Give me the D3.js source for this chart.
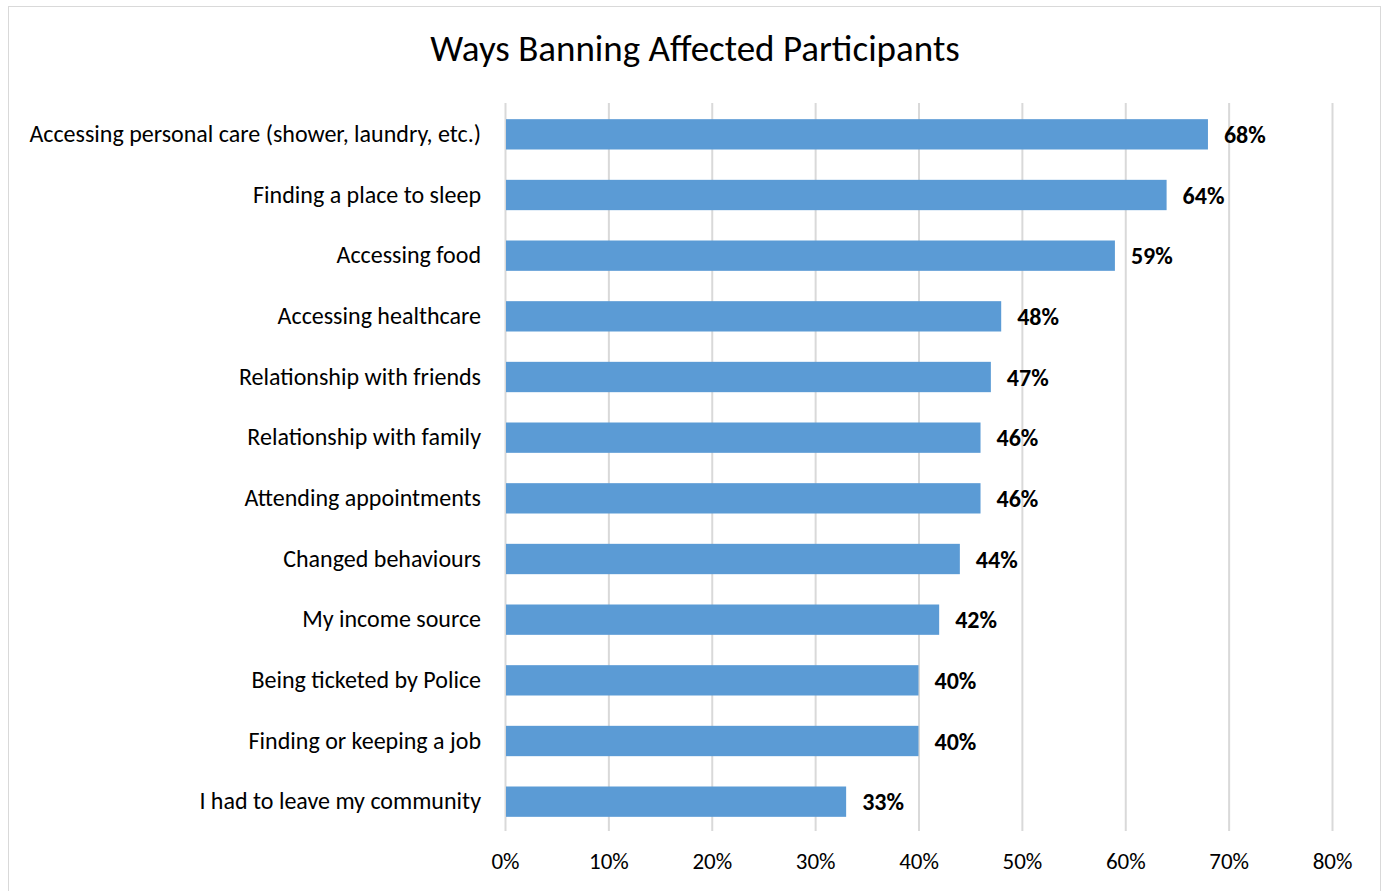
<!DOCTYPE html>
<html>
<head>
<meta charset="utf-8">
<script src="https://cdn.jsdelivr.net/npm/d3@7"></script>
<style>
  html, body { margin: 0; padding: 0; background: #fff; }
  svg { display: block; font-family: Carlito, Calibri, Lato, "Open Sans", sans-serif; }
</style>
</head>
<body>
<svg id="chart" width="1387" height="891"></svg>
<script>
// Survey responses: share of participants affected in each way
const categories = [
  "Accessing personal care (shower, laundry, etc.)",
  "Finding a place to sleep",
  "Accessing food",
  "Accessing healthcare",
  "Relationship with friends",
  "Relationship with family",
  "Attending appointments",
  "Changed behaviours",
  "My income source",
  "Being ticketed by Police",
  "Finding or keeping a job",
  "I had to leave my community"
];
const values = [68, 64, 59, 48, 47, 46, 46, 44, 42, 40, 40, 33];
const tickValues = [0, 10, 20, 30, 40, 50, 60, 70, 80];
const chartTitle = "Ways Banning Affected Participants";

const svg = d3.select("#chart");

// outer chart border
svg.append("rect")
  .attr("x", 8.5).attr("y", 6.5)
  .attr("width", 1372).attr("height", 900)
  .attr("fill", "#fff").attr("stroke", "#d9d9d9").attr("stroke-width", 1);

const plot = { left: 505, right: 1332, top: 103, bottom: 831 };

const x = d3.scaleLinear().domain([0, 80]).range([plot.left, plot.right]);
const y = d3.scaleBand().domain(categories).range([plot.top, plot.bottom]).paddingInner(0.5).paddingOuter(0.25);

// title
svg.append("text")
  .attr("x", 695).attr("y", 61)
  .attr("text-anchor", "middle")
  .attr("font-size", 37)
  .attr("fill", "#000")
  .text(chartTitle);

// vertical gridlines
svg.append("g")
  .selectAll("line")
  .data(tickValues)
  .join("line")
  .attr("x1", d => x(d) + 0.5).attr("x2", d => x(d) + 0.5)
  .attr("y1", plot.top).attr("y2", plot.bottom)
  .attr("stroke", "#d9d9d9").attr("stroke-width", 2);

// bars
svg.append("g")
  .selectAll("rect")
  .data(values)
  .join("rect")
  .attr("x", x(0) + 1)
  .attr("y", (d, i) => y(categories[i]) + 1)
  .attr("width", d => x(d) - x(0) - 1)
  .attr("height", y.bandwidth())
  .attr("fill", "#5b9bd5");

// value labels
svg.append("g")
  .selectAll("text")
  .data(values)
  .join("text")
  .attr("x", d => x(d) + 16)
  .attr("y", (d, i) => y(categories[i]) + y.bandwidth() / 2 + 1)
  .attr("dy", "0.36em")
  .attr("font-size", 24)
  .attr("font-weight", "bold")
  .attr("fill", "#000")
  .text(d => d + "%");

// category axis (labels only)
const yAxis = d3.axisLeft(y).tickSize(0).tickPadding(24);
const gy = svg.append("g").attr("transform", `translate(${plot.left},1)`).call(yAxis)
  .attr("font-family", null).attr("font-size", null);
gy.select(".domain").remove();
gy.selectAll("text").attr("font-size", 24).attr("fill", "#000");

// percentage axis (labels only)
const xAxis = d3.axisBottom(x).tickValues(tickValues).tickFormat(d => d + "%").tickSize(0).tickPadding(22);
const gx = svg.append("g").attr("transform", `translate(0,${plot.bottom})`).call(xAxis)
  .attr("font-family", null).attr("font-size", null);
gx.select(".domain").remove();
gx.selectAll("text").attr("font-size", 23).attr("fill", "#000");
</script>
</body>
</html>
